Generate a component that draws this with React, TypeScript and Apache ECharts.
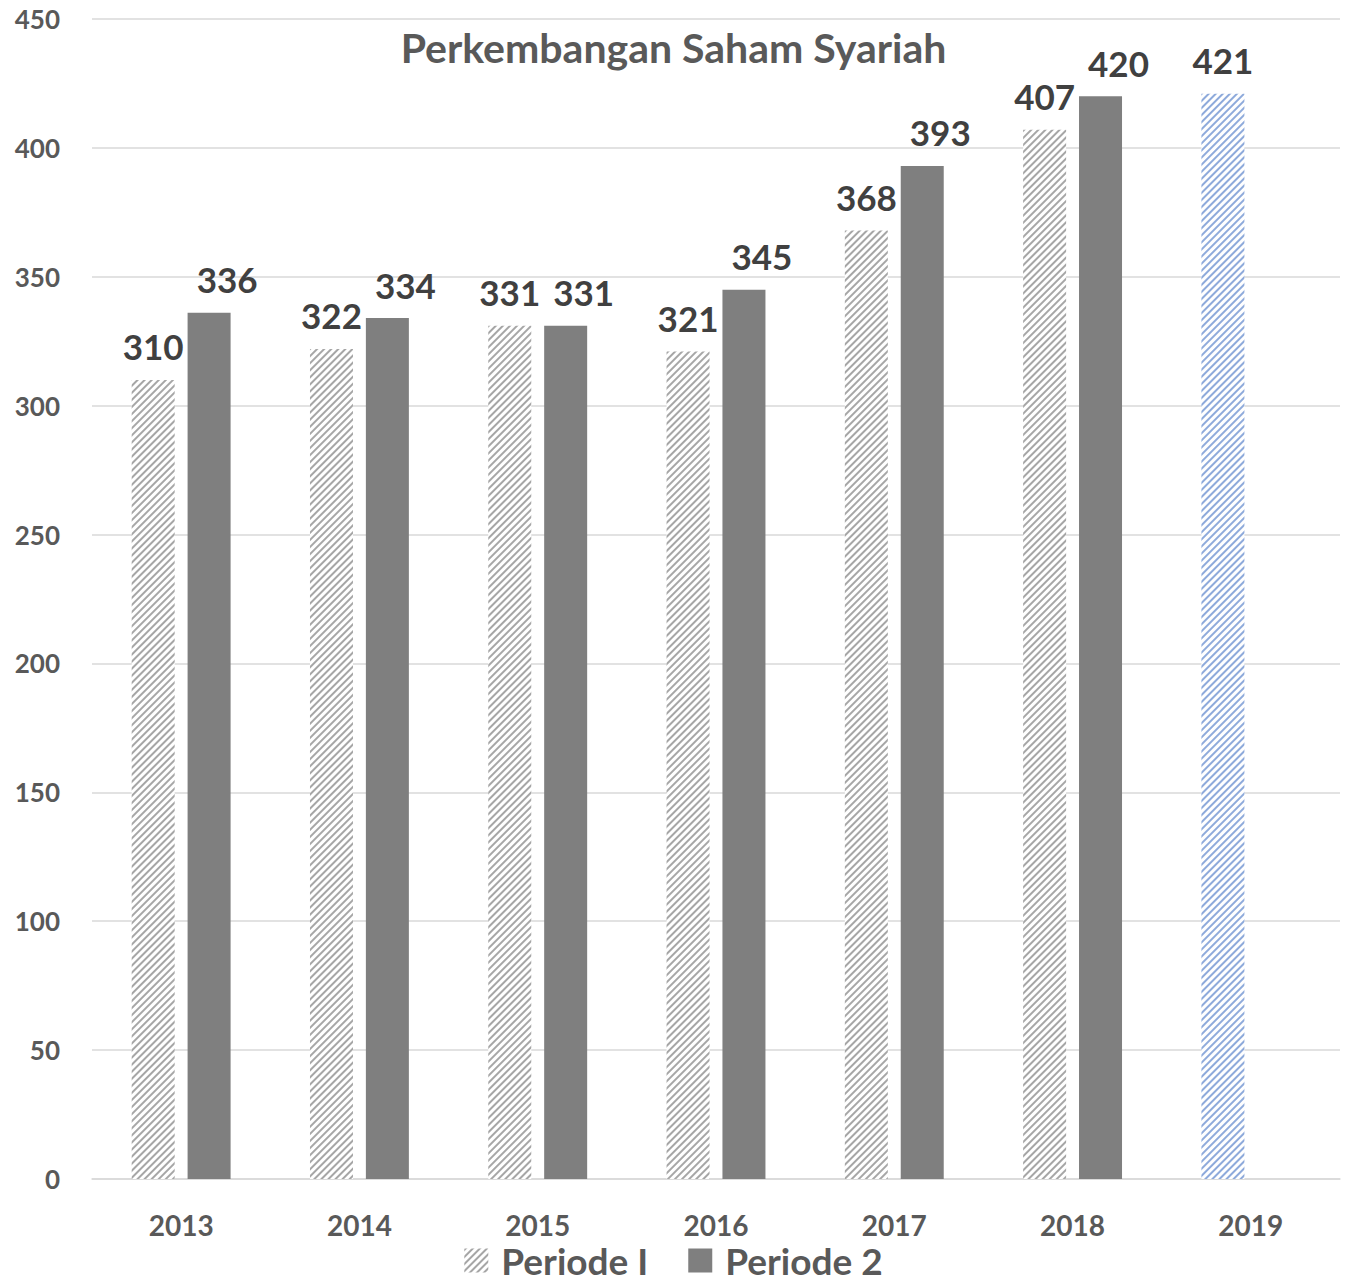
import React, { useEffect, useRef } from "react";
import * as echarts from "echarts";

const categories = ["2013", "2014", "2015", "2016", "2017", "2018", "2019"];
const periode1 = [310, 322, 331, 321, 368, 407, 421];
const periode2: (number | null)[] = [336, 334, 331, 345, 393, 420, null];
const yTicks = [0, 50, 100, 150, 200, 250, 300, 350, 400, 450];
const seriesNames = ["Periode I", "Periode 2"];
const chartTitle = "Perkembangan Saham Syariah";

const FONT = "Lato, 'Open Sans', sans-serif";

const grayDecal = {
  symbol: "rect",
  symbolSize: 1,
  dashArrayX: [1, 0],
  dashArrayY: [1.6, 3],
  rotation: -Math.PI / 4,
  color: "#a6a6a6",
};
const blueDecal = { ...grayDecal, color: "#8eaadb" };

export default function App() {
  const ref = useRef<HTMLDivElement>(null);
  useEffect(() => {
    document.body.style.margin = "0";
    const chart = echarts.init(ref.current!, null, { renderer: "svg" });
    const lastIdx = categories.length - 1;
    chart.setOption({
      animation: false,
      backgroundColor: "#ffffff",
      title: {
        text: chartTitle,
        left: "center",
        top: 22,
        textStyle: { fontFamily: FONT, fontSize: 41, fontWeight: "bold", color: "#595959" },
      },
      legend: {
        top: 1242,
        left: "center",
        padding: 0,
        itemWidth: 24,
        itemHeight: 24,
        itemGap: 40,
        icon: "rect",
        textStyle: {
          fontFamily: FONT,
          fontSize: 37,
          lineHeight: 32,
          fontWeight: "bold",
          color: "#595959",
          padding: [0, 0, 0, 8],
        },
        data: seriesNames,
      },
      grid: { left: 92, right: 7, top: 19, bottom: 100, containLabel: false },
      xAxis: {
        type: "category",
        data: categories,
        axisLine: { lineStyle: { color: "#d9d9d9", width: 1.5 } },
        axisTick: { show: false },
        axisLabel: {
          margin: 33,
          fontFamily: FONT,
          fontSize: 28,
          lineHeight: 26,
          fontWeight: "bold",
          color: "#595959",
        },
      },
      yAxis: {
        type: "value",
        min: yTicks[0],
        max: yTicks[yTicks.length - 1],
        interval: 50,
        axisLine: { show: false },
        axisTick: { show: false },
        splitLine: { lineStyle: { color: "#d9d9d9", width: 1.5 } },
        axisLabel: {
          margin: 32,
          fontFamily: FONT,
          fontSize: 26,
          fontWeight: "bold",
          color: "#595959",
        },
      },
      series: [
        {
          name: seriesNames[0],
          type: "bar",
          barWidth: 43,
          barGap: "30%",
          itemStyle: { color: "#ffffff", decal: grayDecal },
          label: {
            show: true,
            position: "top",
            distance: 16,
            fontFamily: FONT,
            fontSize: 35,
            fontWeight: "bold",
            color: "#404040",
          },
          data: periode1.map((v, i) =>
            i === lastIdx ? { value: v, itemStyle: { color: "#ffffff", decal: blueDecal } } : v
          ),
        },
        {
          name: seriesNames[1],
          type: "bar",
          barWidth: 43,
          itemStyle: { color: "#7f7f7f" },
          label: {
            show: true,
            position: "top",
            distance: 16,
            offset: [18, 0],
            fontFamily: FONT,
            fontSize: 35,
            fontWeight: "bold",
            color: "#404040",
          },
          data: periode2,
        },
      ],
    });
    return () => chart.dispose();
  }, []);
  return <div ref={ref} style={{ width: 1347, height: 1279 }} />;
}
